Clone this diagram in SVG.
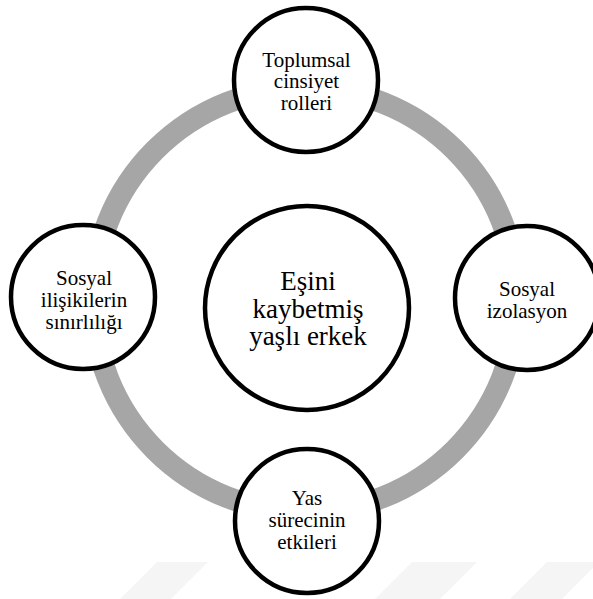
<svg xmlns="http://www.w3.org/2000/svg" width="593" height="599" viewBox="0 0 593 599">
<style>
.node circle{fill:#ffffff;stroke:#000000;stroke-width:4.5}
.node text{font-family:"Liberation Serif","Times New Roman",Tinos,"Noto Serif","DejaVu Serif",FreeSerif,"Nimbus Roman",Times,serif;font-size:21px;fill:#000000;text-anchor:middle}
#center text{font-size:27px}
.wm{fill:#f5f5f5}
</style>
<rect width="593" height="599" fill="#ffffff"/>
<g id="watermark">
<polygon class="wm" points="157,562 208,562 171,599 120,599"/>
<polygon class="wm" points="412,562 477,562 440,599 375,599"/>
<polygon class="wm" points="547,562 593,562 593,568 562,599 510,599"/>
</g>
<g id="connectors">
<circle cx="305" cy="300" r="212" fill="none" stroke="#a6a6a6" stroke-width="22"/>
</g>
<g id="center" class="node">
<circle cx="307" cy="308" r="102"/>
<text x="308" y="290">Eşini</text>
<text x="308" y="317.5">kaybetmiş</text>
<text x="308" y="345">yaşlı erkek</text>
</g>
<g id="top" class="node">
<circle cx="306" cy="80" r="72"/>
<text x="306.5" y="66.5">Toplumsal</text>
<text x="306.5" y="88">cinsiyet</text>
<text x="306.5" y="109.5">rolleri</text>
</g>
<g id="right" class="node">
<circle cx="527" cy="298" r="72"/>
<text x="527" y="296">Sosyal</text>
<text x="527" y="318">izolasyon</text>
</g>
<g id="bottom" class="node">
<circle cx="307" cy="521" r="72"/>
<text x="307" y="505">Yas</text>
<text x="307" y="527">sürecinin</text>
<text x="307" y="549">etkileri</text>
</g>
<g id="left" class="node">
<circle cx="83" cy="297" r="72"/>
<text x="84" y="284.5">Sosyal</text>
<text x="84" y="306.5">ilişikilerin</text>
<text x="84" y="328.5">sınırlılığı</text>
</g>
</svg>
